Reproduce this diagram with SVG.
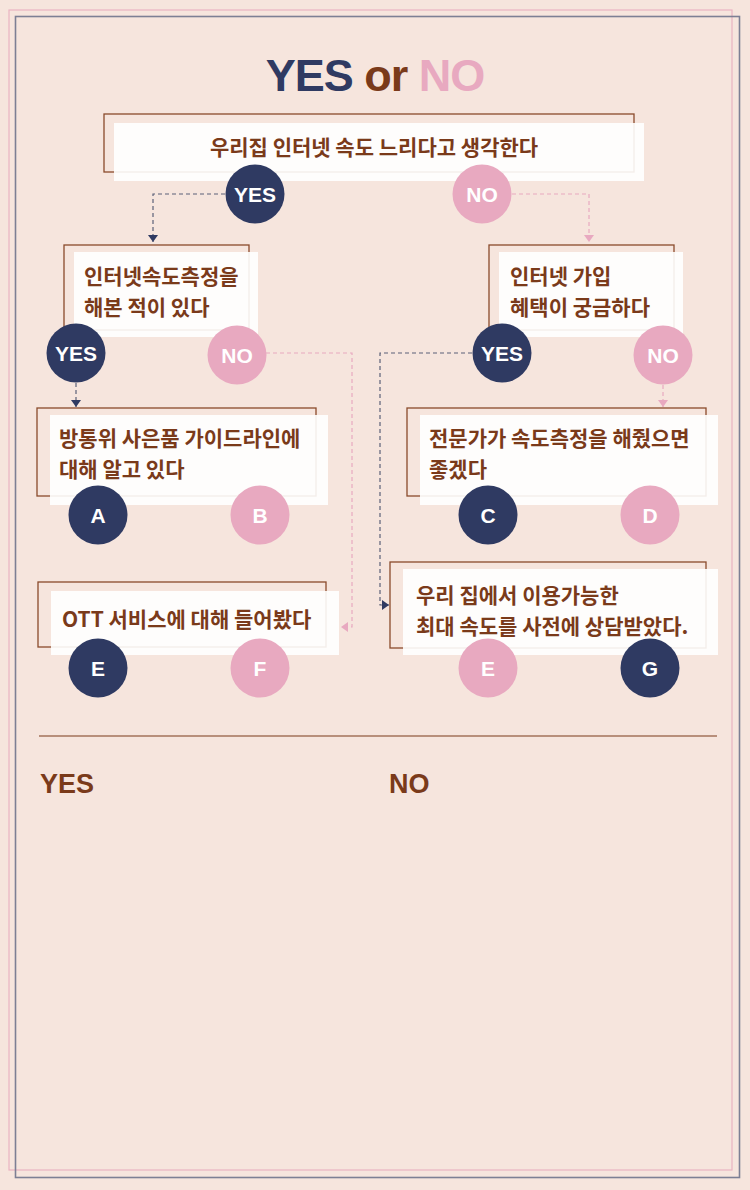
<svg xmlns="http://www.w3.org/2000/svg" width="750" height="1190" viewBox="0 0 750 1190">
<style>
.bg{fill:#f6e5dd}
.frame1{fill:none;stroke:#eab3c2;stroke-width:1.2}
.frame2{fill:none;stroke:#7d7f94;stroke-width:1.6}
.outline{fill:none;stroke:#8a4b2c;stroke-width:1.3}
.card{fill:#ffffff;fill-opacity:0.9}
.qt{font-family:"Noto Sans CJK KR","Noto Sans",sans-serif;font-weight:700;font-size:21px;fill:#7a3a1a}
.dk{fill:#2f3a62}
.pk{fill:#e8a9c0}
.cl{font-family:"Liberation Sans",Arial,sans-serif;font-weight:700;font-size:21px;fill:#ffffff;text-anchor:middle}
.cd{fill:none;stroke:#5b6078;stroke-width:1.2;stroke-dasharray:4 3}
.cp{fill:none;stroke:#e8a9c0;stroke-width:1.2;stroke-dasharray:4 3}
.res{font-family:"Liberation Sans",Arial,sans-serif;font-weight:700;font-size:27px;fill:#7a3a1a}
</style>
<defs>
<marker id="ad" markerUnits="userSpaceOnUse" markerWidth="10" markerHeight="10" refX="7" refY="5" orient="auto"><path d="M0,0 L7,5 L0,10 z" fill="#2f3a62"/></marker>
<marker id="ap" markerUnits="userSpaceOnUse" markerWidth="10" markerHeight="10" refX="7" refY="5" orient="auto"><path d="M0,0 L7,5 L0,10 z" fill="#e8a9c0"/></marker>
</defs>
<rect class="bg" x="0" y="0" width="750" height="1190"/>
<rect class="frame1" x="9" y="10" width="723" height="1160"/>
<rect class="frame2" x="15.5" y="16.5" width="724" height="1161"/>
<text x="375" y="91" text-anchor="middle" font-family="Liberation Sans, Arial, sans-serif" font-weight="700" font-size="45" letter-spacing="-1"><tspan fill="#2f3a62">YES</tspan><tspan fill="#7a3a1a"> or </tspan><tspan fill="#e8a9c0">NO</tspan></text>

<g id="connectors">
<path class="cd" d="M225,194 H153 V242" marker-end="url(#ad)"/>
<path class="cp" d="M512,194 H589 V242" marker-end="url(#ap)"/>
<path class="cd" d="M76,383 V407" marker-end="url(#ad)"/>
<path class="cp" d="M266,353 H352 V627 H341" marker-end="url(#ap)"/>
<path class="cd" d="M472,353 H380 V605 H389" marker-end="url(#ad)"/>
<path class="cp" d="M663,385 V407" marker-end="url(#ap)"/>
</g>

<g id="q1">
<rect class="outline" x="104" y="114" width="530" height="58"/>
<rect class="card" x="114" y="123" width="530" height="58"/>
<text class="qt" x="374" y="155" text-anchor="middle">우리집 인터넷 속도 느리다고 생각한다</text>
</g>
<g id="q2">
<rect class="outline" x="64" y="245" width="185" height="85"/>
<rect class="card" x="74" y="252" width="184" height="85"/>
<text class="qt" x="84" y="284">인터넷속도측정을</text>
<text class="qt" x="84" y="315">해본 적이 있다</text>
</g>
<g id="q3">
<rect class="outline" x="489" y="245" width="185" height="85"/>
<rect class="card" x="499" y="252" width="184" height="85"/>
<text class="qt" x="510" y="284">인터넷 가입</text>
<text class="qt" x="510" y="315">혜택이 궁금하다</text>
</g>
<g id="q4">
<rect class="outline" x="37" y="408" width="279" height="88"/>
<rect class="card" x="50" y="415" width="278" height="90"/>
<text class="qt" x="59" y="446">방통위 사은품 가이드라인에</text>
<text class="qt" x="59" y="477">대해 알고 있다</text>
</g>
<g id="q5">
<rect class="outline" x="38" y="582" width="288" height="65"/>
<rect class="card" x="51" y="591" width="288" height="64"/>
<text class="qt" x="62" y="627">OTT 서비스에 대해 들어봤다</text>
</g>
<g id="q6">
<rect class="outline" x="407" y="408" width="299" height="88"/>
<rect class="card" x="420" y="415" width="298" height="90"/>
<text class="qt" x="429" y="446">전문가가 속도측정을 해줬으면</text>
<text class="qt" x="429" y="477">좋겠다</text>
</g>
<g id="q7">
<rect class="outline" x="390" y="562" width="316" height="86"/>
<rect class="card" x="403" y="569" width="315" height="86"/>
<text class="qt" x="416" y="603">우리 집에서 이용가능한</text>
<text class="qt" x="416" y="634">최대 속도를 사전에 상담받았다.</text>
</g>

<g id="yes1"><circle class="dk" cx="255" cy="194" r="29.5"/><text class="cl" x="255" y="202">YES</text></g>
<g id="no1"><circle class="pk" cx="482" cy="194" r="29.5"/><text class="cl" x="482" y="202">NO</text></g>
<g id="yes2"><circle class="dk" cx="76" cy="353" r="29.5"/><text class="cl" x="76" y="361">YES</text></g>
<g id="no2"><circle class="pk" cx="237" cy="355" r="29.5"/><text class="cl" x="237" y="363">NO</text></g>
<g id="yes3"><circle class="dk" cx="502" cy="353" r="29.5"/><text class="cl" x="502" y="361">YES</text></g>
<g id="no3"><circle class="pk" cx="663" cy="355" r="29.5"/><text class="cl" x="663" y="363">NO</text></g>
<g id="resA"><circle class="dk" cx="98" cy="515" r="29.5"/><text class="cl" x="98" y="523">A</text></g>
<g id="resB"><circle class="pk" cx="260" cy="515" r="29.5"/><text class="cl" x="260" y="523">B</text></g>
<g id="resE1"><circle class="dk" cx="98" cy="668" r="29.5"/><text class="cl" x="98" y="676">E</text></g>
<g id="resF"><circle class="pk" cx="260" cy="668" r="29.5"/><text class="cl" x="260" y="676">F</text></g>
<g id="resC"><circle class="dk" cx="488" cy="515" r="29.5"/><text class="cl" x="488" y="523">C</text></g>
<g id="resD"><circle class="pk" cx="650" cy="515" r="29.5"/><text class="cl" x="650" y="523">D</text></g>
<g id="resE2"><circle class="pk" cx="488" cy="668" r="29.5"/><text class="cl" x="488" y="676">E</text></g>
<g id="resG"><circle class="dk" cx="650" cy="668" r="29.5"/><text class="cl" x="650" y="676">G</text></g>

<line x1="39" y1="736" x2="717" y2="736" stroke="#7a3a1a" stroke-width="1.2"/>
<text class="res" x="40" y="793">YES</text>
<text class="res" x="389" y="793">NO</text>
</svg>
